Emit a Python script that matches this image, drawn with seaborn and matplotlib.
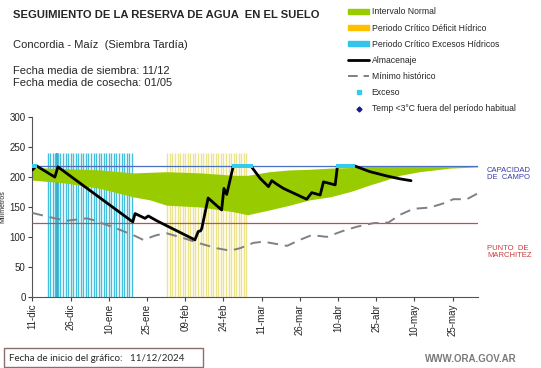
import numpy as np
import pandas as pd
import seaborn as sns
import matplotlib.pyplot as plt
from matplotlib.lines import Line2D
from matplotlib.patches import Patch, Rectangle

# days counted from 11-dic-2024
tick_days = [0, 15, 30, 45, 60, 75, 90, 105, 120, 135, 150, 165]
tick_labels = ["11-dic", "26-dic", "10-ene", "25-ene", "09-feb", "24-feb",
               "11-mar", "26-mar", "10-abr", "25-abr", "10-may", "25-may"]

capacidad_campo = 218
punto_marchitez = 124

# periodo critico excesos / deficit (start, end day)
exceso_periodo = (6, 39)
deficit_periodo = (53, 84)

band_day = [0, 13, 26.5, 39.5, 46, 52.7, 66, 79, 84.5, 93, 101, 109, 117, 125,
            132.6, 136.5, 144.4, 152, 164, 175]
band_upper = [216, 214, 212, 207, 208, 209, 207, 203, 203, 209, 212, 213, 215,
              216, 218, 218, 218, 218, 218, 218]
band_lower = [195, 190, 181, 167, 162, 153, 150, 142, 137, 145, 153, 162, 167,
              176, 187, 192, 203, 209, 215, 217]

alm_day = [0, 1.5, 8.8, 10, 39.4, 40.3, 44.2, 45.5, 48.8, 63.8, 65.1, 66.0, 66.5,
           69, 74.3, 75.2, 76.3, 78.9, 85.7, 89.4, 92.7, 94, 96, 98.6, 107.7,
           109.7, 113, 114.3, 118.9, 119.8, 126.3, 132.6, 139, 144.4, 148.7]
alm_val = [212, 219, 200, 217, 125, 139, 131, 135, 127, 95, 109, 110, 114,
           165, 145, 181, 171, 219, 219, 198, 184, 194, 188, 181, 163,
           174, 170, 192, 187, 219, 219, 209, 202, 197, 194]

min_day = [0, 8.8, 13.4, 17.4, 21.3, 24, 33, 39.6, 43.5, 48.8, 52.7, 59.3, 65.8,
           72.4, 77.6, 81.5, 86.8, 90.7, 96, 100, 105, 109.7, 115.6, 122, 127.4,
           133.9, 139.8, 144.4, 149.6, 156, 161.4, 165.3, 170.6, 175]
min_val = [140, 131, 127, 129, 131, 128, 114, 103, 95, 103, 106, 98, 89,
           81, 77, 81, 90, 92, 88, 85, 95, 103, 100, 110, 117,
           123, 124, 137, 147, 149, 156, 163, 163, 173]

exceso_day = [0, 0.5, 1, 79, 80, 81, 82, 83, 84, 85, 86, 120, 121, 122, 123, 124, 125, 126]
exceso_val = [219] * len(exceso_day)

sns.set_style("white")
plt.rcParams['font.family'] = ['Liberation Sans', 'DejaVu Sans']

fig = plt.figure(figsize=(5.41, 3.68), dpi=100)
ax = fig.add_axes([0.060, 0.1938, 0.8236, 0.4875])

# critical periods as daily vertical lines
ax.vlines(np.arange(exceso_periodo[0], exceso_periodo[1] + 1), 0, 240,
          color="#45c0dc", lw=1.0, zorder=1)
ax.vlines([9.5], 0, 240, color="#2aa8c8", lw=1.3, zorder=1)
ax.vlines(np.arange(deficit_periodo[0], deficit_periodo[1] + 1), 0, 240,
          color="#ece48c", lw=1.0, zorder=1)

ax.fill_between(band_day, band_lower, band_upper, color="#99cc00", lw=0, zorder=2)

ax.hlines(capacidad_campo, 0, 175, color="#4a6fc0", lw=0.9, zorder=3)
ax.hlines(punto_marchitez, 0, 175, color="#c0504d", lw=0.9, zorder=3)

mh = pd.DataFrame({"dia": min_day, "mm": min_val})
sns.lineplot(data=mh, x="dia", y="mm", ax=ax, color="#808080", lw=1.4,
             zorder=4).lines[-1].set_dashes([5.5, 3.5])

alm = pd.DataFrame({"dia": alm_day, "mm": alm_val})
sns.lineplot(data=alm, x="dia", y="mm", ax=ax, color="black", lw=2.0,
             sort=False, zorder=5)

ax.scatter(exceso_day, exceso_val, marker="s", s=5, color="#33ccee", zorder=6, lw=0)

ax.set_xlim(0, 175)
ax.set_ylim(0, 300)
ax.set_yticks(range(0, 301, 50))
ax.set_xticks(tick_days)
ax.set_xticklabels(tick_labels, rotation=90)
ax.tick_params(axis="both", labelsize=7, length=3, width=0.8, color="#444444",
               direction="out", bottom=True, left=True, pad=2)
ax.set_xlabel("")
ax.set_ylabel("Milímetros", fontsize=5, labelpad=2)
for s in ["top", "right"]:
    ax.spines[s].set_visible(False)
for s in ["left", "bottom"]:
    ax.spines[s].set_color("#555555")
    ax.spines[s].set_linewidth(0.8)

fig.text(13 / 541, 1 - 18 / 368, "SEGUIMIENTO DE LA RESERVA DE AGUA  EN EL SUELO",
         fontsize=8.1, fontweight="bold", va="baseline")
fig.text(13 / 541, 1 - 48 / 368, "Concordia - Maíz  (Siembra Tardía)",
         fontsize=8, va="baseline")
fig.text(13 / 541, 1 - 74 / 368, "Fecha media de siembra: 11/12", fontsize=8, va="baseline")
fig.text(13 / 541, 1 - 86 / 368, "Fecha media de cosecha: 01/05", fontsize=8, va="baseline")

handles = [
    Patch(color="#99cc00"),
    Patch(color="#ffc000"),
    Patch(color="#33c4ec"),
    Line2D([], [], color="black", lw=2),
    Line2D([], [], color="#808080", lw=1.4, dashes=[5, 3]),
    Line2D([], [], color="#33ccee", marker="s", ms=2.5, lw=0),
    Line2D([], [], color="#1a1a8c", marker="D", ms=2.5, lw=0),
]
labels = ["Intervalo Normal", "Periodo Crítico Déficit Hídrico",
          "Periodo Crítico Excesos Hídricos", "Almacenaje", "Mínimo histórico",
          "Exceso", "Temp <3°C fuera del período habitual"]
fig.legend(handles, labels, loc="upper left", bbox_to_anchor=(345 / 541, 1 - 4 / 368),
           frameon=False, fontsize=6.2, handlelength=2.4, handleheight=0.45,
           labelspacing=0.83, handletextpad=0.3, borderaxespad=0)

fig.text(487 / 541, 1 - 179 / 368, "CAPACIDAD\nDE  CAMPO", fontsize=5.5,
         color="#3a3aa8", linespacing=1.1)
fig.text(487 / 541, 1 - 257 / 368, "PUNTO  DE\nMARCHITEZ", fontsize=5.5,
         color="#c83c3c", linespacing=1.1)

fig.patches.append(Rectangle((4 / 541, 1 - 367 / 368), 199 / 541, 19 / 368,
                             transform=fig.transFigure, fill=False,
                             edgecolor="#8b6f6f", lw=1.0))
fig.text(9 / 541, 1 - 361 / 368, "Fecha de inicio del gráfico:   11/12/2024",
         fontsize=7, family=["Lato", "DejaVu Sans"], va="baseline")
fig.text(425 / 541, 1 - 362 / 368, "WWW.ORA.GOV.AR", fontsize=7,
         color="#7a7a7a", fontweight="bold", va="baseline")

fig.savefig("out.png", dpi=100)
